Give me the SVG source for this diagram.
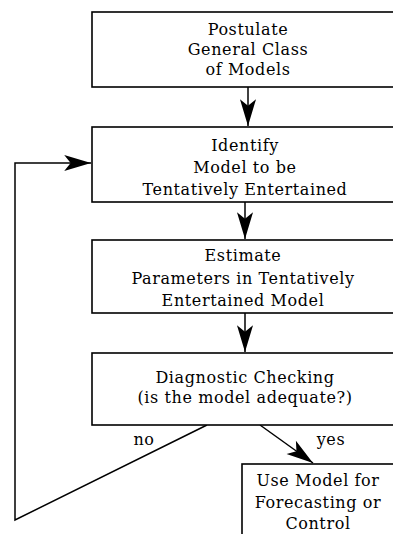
<svg xmlns="http://www.w3.org/2000/svg" width="393" height="534" viewBox="0 0 393 534">
<style>
.box{fill:#fff;stroke:#000;stroke-width:1.6}
.ln{fill:none;stroke:#000;stroke-width:1.5}
text{font-family:"DejaVu Serif","Liberation Serif",serif;font-size:16px;letter-spacing:0.6px;fill:#000;text-anchor:middle}
</style>
<defs>
<marker id="ah" markerUnits="userSpaceOnUse" markerWidth="30" markerHeight="20" viewBox="-27 -9 28 18" refX="0" refY="0" orient="auto">
<path d="M0,0 L-25,-7.5 L-19,0 L-25,7.5 Z" fill="#000"/>
</marker>
</defs>
<g id="connectors">
<line class="ln" x1="248" y1="87" x2="248" y2="126" marker-end="url(#ah)"/>
<line class="ln" x1="245" y1="202" x2="245" y2="239" marker-end="url(#ah)"/>
<line class="ln" x1="245" y1="313" x2="245" y2="352" marker-end="url(#ah)"/>
<polyline class="ln" points="207,425 15,520 15,163 91,163" marker-end="url(#ah)"/>
<line class="ln" x1="260" y1="425" x2="313" y2="463" marker-end="url(#ah)"/>
</g>
<g id="n1">
<rect class="box" x="92" y="12" width="320" height="75"/>
<text x="248" y="35">Postulate</text>
<text x="248" y="55">General Class</text>
<text x="248" y="75">of Models</text>
</g>
<g id="n2">
<rect class="box" x="92" y="127" width="320" height="75"/>
<text x="245" y="151">Identify</text>
<text x="245" y="173">Model to be</text>
<text x="245" y="195">Tentatively Entertained</text>
</g>
<g id="n3">
<rect class="box" x="92" y="240" width="320" height="73"/>
<text x="243" y="261">Estimate</text>
<text x="243" y="284">Parameters in Tentatively</text>
<text x="243" y="306">Entertained Model</text>
</g>
<g id="n4">
<rect class="box" x="92" y="353" width="320" height="72"/>
<text x="245" y="383">Diagnostic Checking</text>
<text x="245" y="403">(is the model adequate?)</text>
</g>
<g id="labels">
<text x="144" y="445">no</text>
<text x="331" y="445">yes</text>
</g>
<g id="n5">
<rect class="box" x="242" y="464" width="170" height="90"/>
<text x="318" y="486">Use Model for</text>
<text x="318" y="508">Forecasting or</text>
<text x="318" y="529">Control</text>
</g>
</svg>
